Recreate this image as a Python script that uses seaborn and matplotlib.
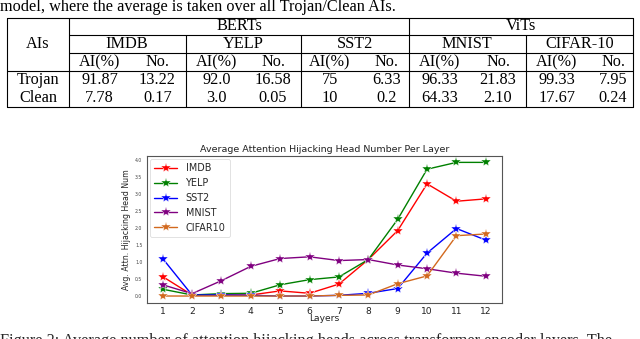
import matplotlib
matplotlib.use("Agg")
import matplotlib.pyplot as plt
from matplotlib.lines import Line2D
import seaborn as sns
import pandas as pd

# ---------------- data ----------------
layers = list(range(1, 13))
imdb = [0.57, 0.03, 0.03, 0.03, 0.15, 0.08, 0.35, 1.07, 1.92, 3.29, 2.78, 2.85]
yelp = [0.20, 0.03, 0.07, 0.08, 0.33, 0.48, 0.56, 1.07, 2.25, 3.72, 3.92, 3.92]
sst2 = [1.10, 0.03, 0.03, 0.02, 0.00, 0.00, 0.02, 0.08, 0.22, 1.26, 1.98, 1.64]
mnist = [0.33, 0.07, 0.45, 0.87, 1.10, 1.15, 1.04, 1.07, 0.91, 0.80, 0.67, 0.58]
cifar10 = [0.00, 0.00, 0.00, 0.00, 0.00, 0.00, 0.02, 0.03, 0.36, 0.59, 1.77, 1.82]
series_names = ["IMDB", "YELP", "SST2", "MNIST", "CIFAR10"]
series_colors = ["red", "green", "blue", "purple", "chocolate"]

table_groups = ["BERTs", "ViTs"]
table_datasets = ["IMDB", "YELP", "SST2", "MNIST", "CIFAR-10"]
table_rows = ["Trojan", "Clean"]
trojan_vals = ["91.87", "13.22", "92.0", "16.58", "75", "6.33", "96.33", "21.83", "99.33", "7.95"]
clean_vals = ["7.78", "0.17", "3.0", "0.05", "10", "0.2", "64.33", "2.10", "17.67", "0.24"]

top_text = "model, where the average is taken over all Trojan/Clean AIs."
caption = "Figure 2: Average number of attention hijacking heads across transformer encoder layers. The"

# ---------------- figure ----------------
sns.set_style("white")
plt.rcParams["font.family"] = ["DejaVu Sans"]

W, H = 640, 339
fig = plt.figure(figsize=(W / 100, H / 100), dpi=100)


def fx(x):
    return x / W


def fy(y):
    return 1 - y / H


serif = ["Liberation Serif", "DejaVu Serif"]
tfs = 11.7


def ftext(x, y, s, ha="center", va="center"):
    fig.text(fx(x), fy(y), s, ha=ha, va=va, fontsize=tfs, family=serif, color="black")


def fline(x0, y0, x1, y1):
    fig.add_artist(Line2D([fx(x0), fx(x1)], [fy(y0), fy(y1)], transform=fig.transFigure,
                          color="black", lw=0.8))


# top text
ftext(0, 7, top_text, ha="left")

# table lines
left, right = 7.3, 633.3
top, bottom = 17.5, 107.3
col_ai = 69
fline(left, top, right, top)
fline(left, bottom, right, bottom)
fline(left, top, left, bottom)
fline(right, top, right, bottom)
fline(col_ai, top, col_ai, bottom)
fline(col_ai, 35, right, 35)
fline(col_ai, 53.3, right, 53.3)
fline(left, 71, right, 71)
for xe in [185.7, 300.7, 526]:
    fline(xe, 35, xe, bottom)
fline(409, top, 409, bottom)

# table texts
ftext(38, 44, "AIs")
ftext(239, 25.5, table_groups[0])
ftext(521, 25.5, table_groups[1])
ds_centers = [127, 243, 355, 467, 580]
for c, d in zip(ds_centers, table_datasets):
    ftext(c, 43.5, d)
sub_centers = [99.5, 157.5, 216.5, 273, 330, 386.7, 440, 498, 556.7, 613]
for i, c in enumerate(sub_centers):
    ftext(c, 62, "AI(%)" if i % 2 == 0 else "No.")
    ftext(c, 80, trojan_vals[i])
    ftext(c, 97.5, clean_vals[i])
ftext(38, 80, table_rows[0])
ftext(38, 97.5, table_rows[1])

# caption (cut by the bottom edge, as in the reference)
fig.text(fx(0), fy(333), caption, ha="left", va="top", fontsize=tfs, family=serif)

# ---------------- chart ----------------
ax_l, ax_r, ax_t, ax_b = 146.5, 502, 155.7, 302.7
ax = fig.add_axes([fx(ax_l), fy(ax_b), fx(ax_r - ax_l), (ax_b - ax_t) / H])

df = pd.DataFrame({
    "Layer": layers * 5,
    "value": imdb + yelp + sst2 + mnist + cifar10,
    "dataset": sum([[n] * 12 for n in series_names], []),
})

sns.lineplot(data=df, x="Layer", y="value", hue="dataset", style="dataset",
             hue_order=series_names, style_order=series_names,
             palette=dict(zip(series_names, series_colors)),
             markers=dict(zip(series_names, ["*"] * 5)), dashes=False,
             markersize=7.5, linewidth=1.0, markeredgewidth=0.3, ax=ax)

ax.set_xticks(layers)
yt = [0.0, 0.5, 1.0, 1.5, 2.0, 2.5, 3.0, 3.5, 4.0]
ax.set_yticks(yt)
ax.set_yticklabels([f"{v:.1f}" for v in yt])
ax.tick_params(axis="x", labelsize=6.6, length=1.5, width=0.5, pad=1.5, colors="#222222")
ax.tick_params(axis="y", labelsize=3.3, length=1.5, width=0.5, pad=1.5, colors="#444444")
ax.set_xlabel("Layers", fontsize=6.6, labelpad=-1.0, color="#222222")
ax.set_ylabel("Avg. Attn. Hijacking Head Num", fontsize=5.6, labelpad=3, color="#222222")
ax.set_title("Average Attention Hijacking Head Number Per Layer", fontsize=6.8, pad=2.5,
             color="#222222")
for s in ax.spines.values():
    s.set_color("#555555")
    s.set_linewidth(0.8)

leg = ax.legend(loc="upper left", fontsize=6.9, labelspacing=0.5, handlelength=2.4,
                handletextpad=0.9, borderpad=0.45, frameon=True, fancybox=True,
                bbox_to_anchor=(0.0, 1.0), borderaxespad=0.35)
leg.get_frame().set_linewidth(0.5)
leg.get_frame().set_edgecolor("#cccccc")

fig.savefig("out.png", dpi=100)
